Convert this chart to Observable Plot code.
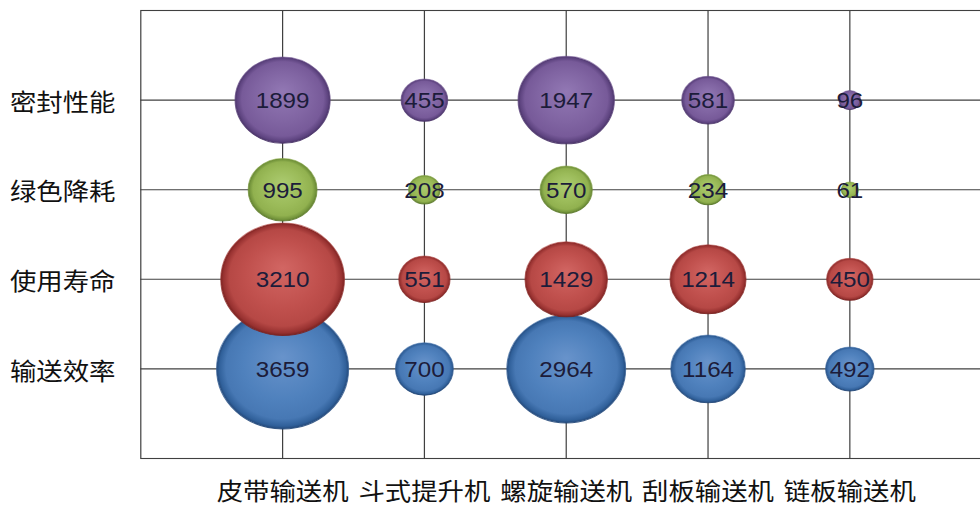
<!DOCTYPE html>
<html>
<head>
<meta charset="utf-8">
<script src="https://cdn.jsdelivr.net/npm/d3@7"></script>
<script src="https://cdn.jsdelivr.net/npm/@observablehq/plot@0.6"></script>
<style>
  html, body { margin: 0; padding: 0; background: #fff; overflow: hidden; }
  #chart { width: 980px; height: 506px; overflow: hidden; }
  #chart svg { transform: scaleX(1.1); transform-origin: 0 0; display: block; }
</style>
</head>
<body>
<div id="chart"></div>
<script>
// Categories (x) and metrics (y, top to bottom)
const machines = ["皮带输送机", "斗式提升机", "螺旋输送机", "刮板输送机", "链板输送机"];
const metrics = ["密封性能", "绿色降耗", "使用寿命", "输送效率"];

// Series values, one per metric, in machine order
const 输送效率 = [3659, 700, 2964, 1164, 492];
const 使用寿命 = [3210, 551, 1429, 1214, 450];
const 绿色降耗 = [995, 208, 570, 234, 61];
const 密封性能 = [1899, 455, 1947, 581, 96];

// Drawing order (first series drawn first)
const seriesOrder = ["输送效率", "使用寿命", "绿色降耗", "密封性能"];
const seriesValues = { 输送效率, 使用寿命, 绿色降耗, 密封性能 };
const seriesGrad = { 输送效率: "blue", 使用寿命: "red", 绿色降耗: "green", 密封性能: "purple" };

const rows = seriesOrder.flatMap(m =>
  machines.map((c, j) => ({ machine: c, metric: m, value: seriesValues[m][j] }))
);
const maxValue = d3.max(rows, d => d.value);

const gridColor = "#404040";

const plot = Plot.plot({
  width: 901,
  height: 506,
  marginLeft: 127.5,
  marginRight: 0,
  marginTop: 10,
  marginBottom: 48,
  style: { background: "transparent", overflow: "visible" },
  x: { type: "point", domain: machines, padding: 1, round: false },
  y: { type: "point", domain: metrics, padding: 1, round: false },
  r: { type: "sqrt", domain: [0, maxValue], range: [0, 60] },
  marks: [
    Plot.ruleX(machines, { stroke: gridColor, strokeWidth: 1.1 }),
    Plot.ruleY(metrics, { stroke: gridColor, strokeWidth: 1.1 }),
    Plot.frame({ stroke: gridColor, strokeWidth: 1.1 }),
    ...seriesOrder.map(m =>
      Plot.dot(rows.filter(d => d.metric === m), {
        x: "machine",
        y: "metric",
        r: "value",
        fill: `url(#g-${seriesGrad[m]})`,
        stroke: `url(#s-${seriesGrad[m]})`,
        strokeWidth: 1
      })
    ),
    Plot.text(rows, {
      x: "machine",
      y: "metric",
      text: d => String(d.value),
      fill: "#1c1c3a",
      fontSize: 22,
      fontFamily: "Liberation Sans, Arial, sans-serif",
      dy: 1
    }),
    Plot.axisX({
      tickSize: 0,
      tickPadding: 24,
      fontSize: 24,
      fontFamily: "Noto Sans CJK SC",
      fill: "#111",
      label: null
    }),
    Plot.axisY({
      tickSize: 0,
      tickPadding: 23,
      fontSize: 24,
      fontFamily: "Noto Sans CJK SC",
      fill: "#111",
      dy: 3,
      label: null
    })
  ]
});

// gradients for the 3-D bubble effect
const palettes = {
  blue:   ["#6893cb", "#4f81bd", "#4778b4", "#30609a", "#24497a"],
  red:    ["#d26663", "#c0504d", "#b64845", "#973130", "#7a2220"],
  green:  ["#accb70", "#9bbb59", "#91b14f", "#73943b", "#5c7a2c"],
  purple: ["#9278b4", "#8064a2", "#775a99", "#5d437f", "#4a3468"]
};
const svg = d3.select(plot);
const defs = svg.insert("defs", ":first-child");
for (const [name, c] of Object.entries(palettes)) {
  const g = defs.append("radialGradient")
    .attr("id", `g-${name}`)
    .attr("cx", "50%").attr("cy", "50%").attr("r", "50%")
    .attr("fx", "50%").attr("fy", "40%");
  [[0, c[0]], [0.6, c[1]], [0.86, c[2]], [0.96, c[3]], [1, c[4]]].forEach(([o, col]) =>
    g.append("stop").attr("offset", o).attr("stop-color", col));
  const s = defs.append("linearGradient")
    .attr("id", `s-${name}`)
    .attr("x1", 0).attr("y1", 0).attr("x2", 0).attr("y2", 1);
  s.append("stop").attr("offset", 0).attr("stop-color", c[2]).attr("stop-opacity", 0.6);
  s.append("stop").attr("offset", 1).attr("stop-color", c[4]).attr("stop-opacity", 0.9);
}

document.getElementById("chart").appendChild(plot);
</script>
</body>
</html>
